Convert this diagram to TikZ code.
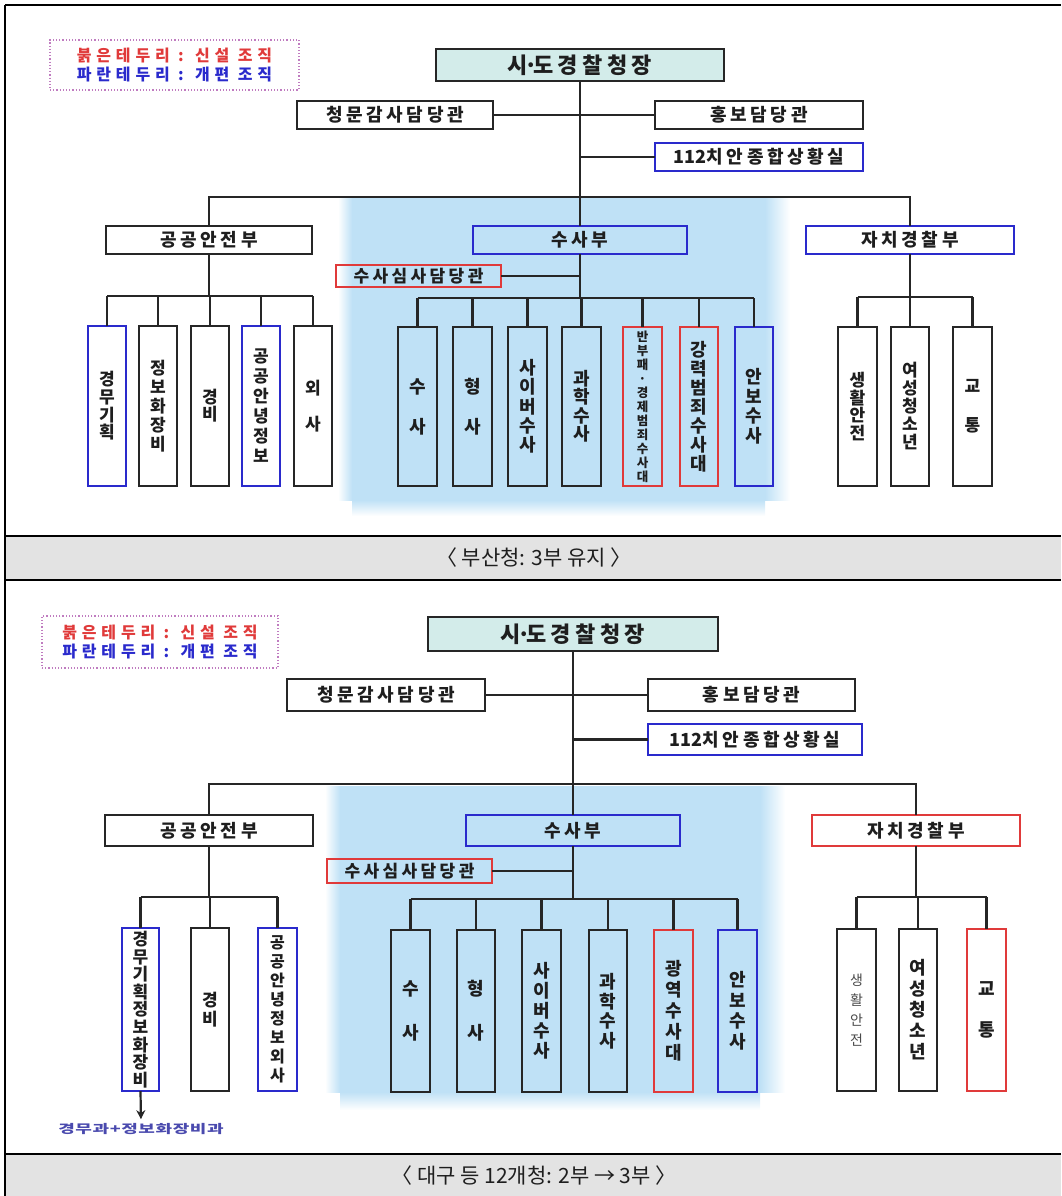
\documentclass[tikz,border=0pt]{standalone}
\usepackage{fontspec}
\newfontfamily\kr{Noto Sans CJK KR}
\newfontfamily\krv{Noto Sans CJK KR}
\newfontfamily\krb{Noto Sans CJK KR}[LetterSpace=20]
\newfontfamily\krl{Noto Sans CJK KR}[LetterSpace=30]
\newfontfamily\krw{Noto Sans CJK KR}[FakeStretch=1.5, LetterSpace=5]
\usetikzlibrary{arrows.meta}
\definecolor{bk}{HTML}{262626}
\definecolor{txt}{HTML}{1E1E1E}
\definecolor{rd}{HTML}{E03A3A}
\definecolor{bl}{HTML}{2A2ACC}
\definecolor{chieffill}{HTML}{D3ECEA}
\definecolor{sky}{HTML}{BFE1F6}
\definecolor{capg}{HTML}{E3E3E3}
\definecolor{legb}{HTML}{C07CC0}
\definecolor{notec}{HTML}{4A4AAE}
\definecolor{softtxt}{HTML}{4A4A4A}
\newcommand\bx[7]{\node[#2, minimum width={(#5)-(#3)}, minimum height={(#6)-(#4)}] (#1) at ({((#3)+(#5))/2},{((#4)+(#6))/2}) {#7};}
\tikzset{
  ln/.style={draw=bk, line width=2.2pt},
  tbl/.style={draw=black, line width=1.4pt},
  bd/.style={draw=bk, line width=2.2pt, inner sep=0pt, outer sep=0pt, text=txt},
  hb/.style={bd, fill=white, font=\krb\bfseries\fontsize{18}{20}\selectfont},
  hsm/.style={font=\krb\bfseries\fontsize{17}{20}\selectfont},
  vb/.style={bd, fill=white, align=center, font=\krv\bfseries\fontsize{17}{#1}\selectfont},
  vbig/.style={bd, fill=white, align=center, font=\krv\bfseries\fontsize{18}{#1}\selectfont},
  vsmall/.style={bd, fill=white, align=center, font=\krv\bfseries\fontsize{12.5}{#1}\selectfont},
  clear/.style={fill=none},
  rb/.style={draw=rd},
  bb/.style={draw=bl},
  legendbox/.style={draw=legb, line width=1.2pt, dotted, inner sep=0pt, align=left, font=\krl\bfseries\fontsize{16}{19}\selectfont},
  chiefbox/.style={bd, fill=chieffill, font=\krb\bfseries\fontsize{22}{24}\selectfont},
  captxt/.style={font=\kr\fontsize{21}{24}\selectfont, text=txt},
}
\begin{document}
\begin{tikzpicture}[x=1pt,y=-1pt]
\useasboundingbox (0,0) rectangle (1061,1196);
% table
\fill[capg] (5,536) rectangle (1061,580);
\fill[capg] (5,1154) rectangle (1061,1196);
\draw[tbl] (5,5) -- (1061,5);
\draw[tbl] (5,5) -- (5,1196);
\draw[tbl] (5,536) -- (1061,536);
\draw[tbl] (5,580) -- (1061,580);
\draw[tbl] (5,1154) -- (1061,1154);
% blue regions
\fill[sky] (352,197) rectangle (765,500);
\shade[left color=white, right color=sky] (338,197) rectangle (352,500);
\shade[left color=sky, right color=white] (765,197) rectangle (790,500);
\shade[top color=sky, bottom color=white] (352,500) rectangle (765,516);
\fill[sky] (340,786) rectangle (760,1092);
\shade[left color=white, right color=sky] (325,786) rectangle (340,1092);
\shade[left color=sky, right color=white] (760,786) rectangle (785,1092);
\shade[top color=sky, bottom color=white] (340,1092) rectangle (760,1110);

%================ TOP =================
\bx{leg1}{legendbox}{50}{40}{299}{90}{\textcolor{rd}{붉은테두리 : 신설 조직}\\\textcolor{bl}{파란테두리 : 개편 조직}}
\bx{chief1}{chiefbox}{436}{49}{724}{81}{시\makebox[5pt]{·}도경찰청장}
\bx{audit1}{hb}{297}{101}{493}{129}{청문감사담당관}
\bx{pr1}{hb}{655}{101}{863}{129}{홍보담당관}
\bx{situ1}{hb,bb}{655}{143}{863}{171}{{\krv 112}치안종합상황실}
\bx{safety1}{hb}{106}{226}{312}{254}{공공안전부}
\bx{inv1}{hb,bb,clear}{473}{226}{687}{254}{수사부}
\bx{auto1}{hb,bb}{806}{226}{1014}{254}{자치경찰부}
\bx{review1}{hb,hsm,rb,clear}{336}{265}{501}{287}{수사심사담당관}
% safety children
\bx{s1}{vb=17.7,bb}{88}{326}{126}{486}{경\\무\\기\\획}
\bx{s2}{vb=19}{139}{326}{177}{486}{정\\보\\화\\장\\비}
\bx{s3}{vb=17}{191}{326}{229}{486}{경\\비}
\bx{s4}{vb=20,bb}{242}{326}{280}{486}{공\\공\\안\\녕\\정\\보}
\bx{s5}{vb=18}{294}{326}{332}{486}{외\\[18pt]사}
% investigation children
\bx{i1}{vbig=19,clear}{398}{327}{437}{486}{수\\[21pt]사}
\bx{i2}{vbig=19,clear}{453}{327}{492}{486}{형\\[21pt]사}
\bx{i3}{vbig=19.3,clear}{508}{327}{547}{486}{사\\이\\버\\수\\사}
\bx{i4}{vbig=18.5,clear}{562}{327}{601}{486}{과\\학\\수\\사}
\bx{i5}{vsmall=14,clear,rb}{623}{327}{662}{486}{반\\부\\패\\·\\경\\제\\범\\죄\\수\\사\\대}
\bx{i6}{vbig=19,clear,rb}{680}{327}{718}{486}{강\\력\\범\\죄\\수\\사\\대}
\bx{i7}{vbig=19.5,clear,bb}{735}{327}{773}{486}{안\\보\\수\\사}
% autonomous children
\bx{a1}{vb=17.5}{838}{327}{877}{486}{생\\활\\안\\전}
\bx{a2}{vb=18}{891}{327}{929}{486}{여\\성\\청\\소\\년}
\bx{a3}{vb=19}{953}{327}{992}{486}{교\\[20pt]통}

\coordinate (bus1) at (580,197);
\coordinate (sb1) at (0,296);
\coordinate (ib1) at (0,298);
\coordinate (ab1) at (0,297);
\draw[ln] (chief1.south) -- (inv1.north);
\draw[ln] (audit1.east) -- (pr1.west);
\draw[ln] (situ1.west) -- (situ1.west -| chief1.south);
\draw[ln] (safety1.north) -- (safety1.north |- bus1) -- (auto1.north |- bus1) -- (auto1.north);
\draw[ln] (review1.east) -- (review1.east -| inv1.south);
\draw[ln] (safety1.south) -- (safety1.south |- sb1);
\draw[ln] (s1.north |- sb1) -- (s5.north |- sb1);
\foreach \cc in {s1,s2,s3,s4,s5} \draw[ln] (\cc.north) -- (\cc.north |- sb1);
\draw[ln] (inv1.south) -- (inv1.south |- ib1);
\draw[ln] (i1.north |- ib1) -- (i7.north |- ib1);
\foreach \cc in {i1,i2,i3,i4,i5,i6,i7} \draw[ln] (\cc.north) -- (\cc.north |- ib1);
\draw[ln] (auto1.south) -- (auto1.south |- ab1);
\draw[ln] (a1.north |- ab1) -- (a3.north |- ab1);
\foreach \cc in {a1,a2,a3} \draw[ln] (\cc.north) -- (\cc.north |- ab1);

\node[captxt] (cap1) at (534,558) {〈 부산청: 3부 유지 〉};

%================ BOTTOM =================
\bx{leg2}{legendbox}{42}{616}{278}{668}{\textcolor{rd}{붉은테두리 : 신설 조직}\\\textcolor{bl}{파란테두리 : 개편 조직}}
\bx{chief2}{chiefbox}{428}{617}{718}{651}{시\makebox[5pt]{·}도경찰청장}
\bx{audit2}{hb}{287}{679}{485}{711}{청문감사담당관}
\bx{pr2}{hb}{648}{679}{855}{711}{홍보담당관}
\bx{situ2}{hb,bb}{648}{724}{862}{755}{{\krv 112}치안종합상황실}
\bx{safety2}{hb}{105}{815}{313}{846}{공공안전부}
\bx{inv2}{hb,bb,clear}{466}{815}{680}{846}{수사부}
\bx{auto2}{hb,rb}{812}{815}{1020}{846}{자치경찰부}
\bx{review2}{hb,hsm,rb,clear}{327}{859}{492}{883}{수사심사담당관}
% safety children
\bx{t1}{vb=17.6,bb}{122}{928}{159}{1091}{경\\무\\기\\획\\정\\보\\화\\장\\비}
\bx{t2}{vb=19}{191}{928}{229}{1091}{경\\비}
\bx{t3}{vb=19,bb,font=\krv\bfseries\fontsize{16}{19}\selectfont}{258}{928}{297}{1091}{공\\공\\안\\녕\\정\\보\\외\\사}
% investigation children
\bx{u1}{vbig=19,clear}{391}{930}{430}{1092}{수\\[25pt]사}
\bx{u2}{vbig=19,clear}{457}{930}{495}{1092}{형\\[25pt]사}
\bx{u3}{vbig=20,clear}{522}{930}{561}{1092}{사\\이\\버\\수\\사}
\bx{u4}{vbig=19.5,clear}{589}{930}{627}{1092}{과\\학\\수\\사}
\bx{u5}{vbig=21,clear,rb}{654}{930}{693}{1092}{광\\역\\수\\사\\대}
\bx{u6}{vbig=20.5,clear,bb}{718}{930}{757}{1092}{안\\보\\수\\사}
% autonomous children
\bx{v1}{vb=20,font=\krv\fontsize{14}{20}\selectfont,text=softtxt}{837}{929}{876}{1091}{생\\활\\안\\전}
\bx{v2}{vbig=21}{899}{929}{937}{1091}{여\\성\\청\\소\\년}
\bx{v3}{vbig=19,rb}{967}{929}{1006}{1091}{교\\[22pt]통}

\node[font=\krw\bfseries\fontsize{12}{14}\selectfont, text=notec, inner sep=1pt] (note2) at (141,1129) {경무과+정보화장비과};

\coordinate (bus2) at (573,784);
\coordinate (sb2) at (0,897);
\coordinate (ib2) at (0,899);
\coordinate (ab2) at (0,897);
\draw[ln] (chief2.south) -- (inv2.north);
\draw[ln] (audit2.east) -- (pr2.west);
\draw[ln] (situ2.west) -- (situ2.west -| chief2.south);
\draw[ln] (safety2.north) -- (safety2.north |- bus2) -- (auto2.north |- bus2) -- (auto2.north);
\draw[ln] (review2.east) -- (review2.east -| inv2.south);
\draw[ln] (safety2.south) -- (safety2.south |- sb2);
\draw[ln] (t1.north |- sb2) -- (t3.north |- sb2);
\foreach \cc in {t1,t2,t3} \draw[ln] (\cc.north) -- (\cc.north |- sb2);
\draw[ln] (inv2.south) -- (inv2.south |- ib2);
\draw[ln] (u1.north |- ib2) -- (u6.north |- ib2);
\foreach \cc in {u1,u2,u3,u4,u5,u6} \draw[ln] (\cc.north) -- (\cc.north |- ib2);
\draw[ln] (auto2.south) -- (auto2.south |- ab2);
\draw[ln] (v1.north |- ab2) -- (v3.north |- ab2);
\foreach \cc in {v1,v2,v3} \draw[ln] (\cc.north) -- (\cc.north |- ab2);
\draw[ln, -{Stealth[length=9pt,width=9pt]}, shorten >=3pt] (t1.south) -- (note2.north);

\node[captxt] (cap2) at (534,1176) {〈 대구 등 12개청: 2부 → 3부 〉};
\end{tikzpicture}
\end{document}
